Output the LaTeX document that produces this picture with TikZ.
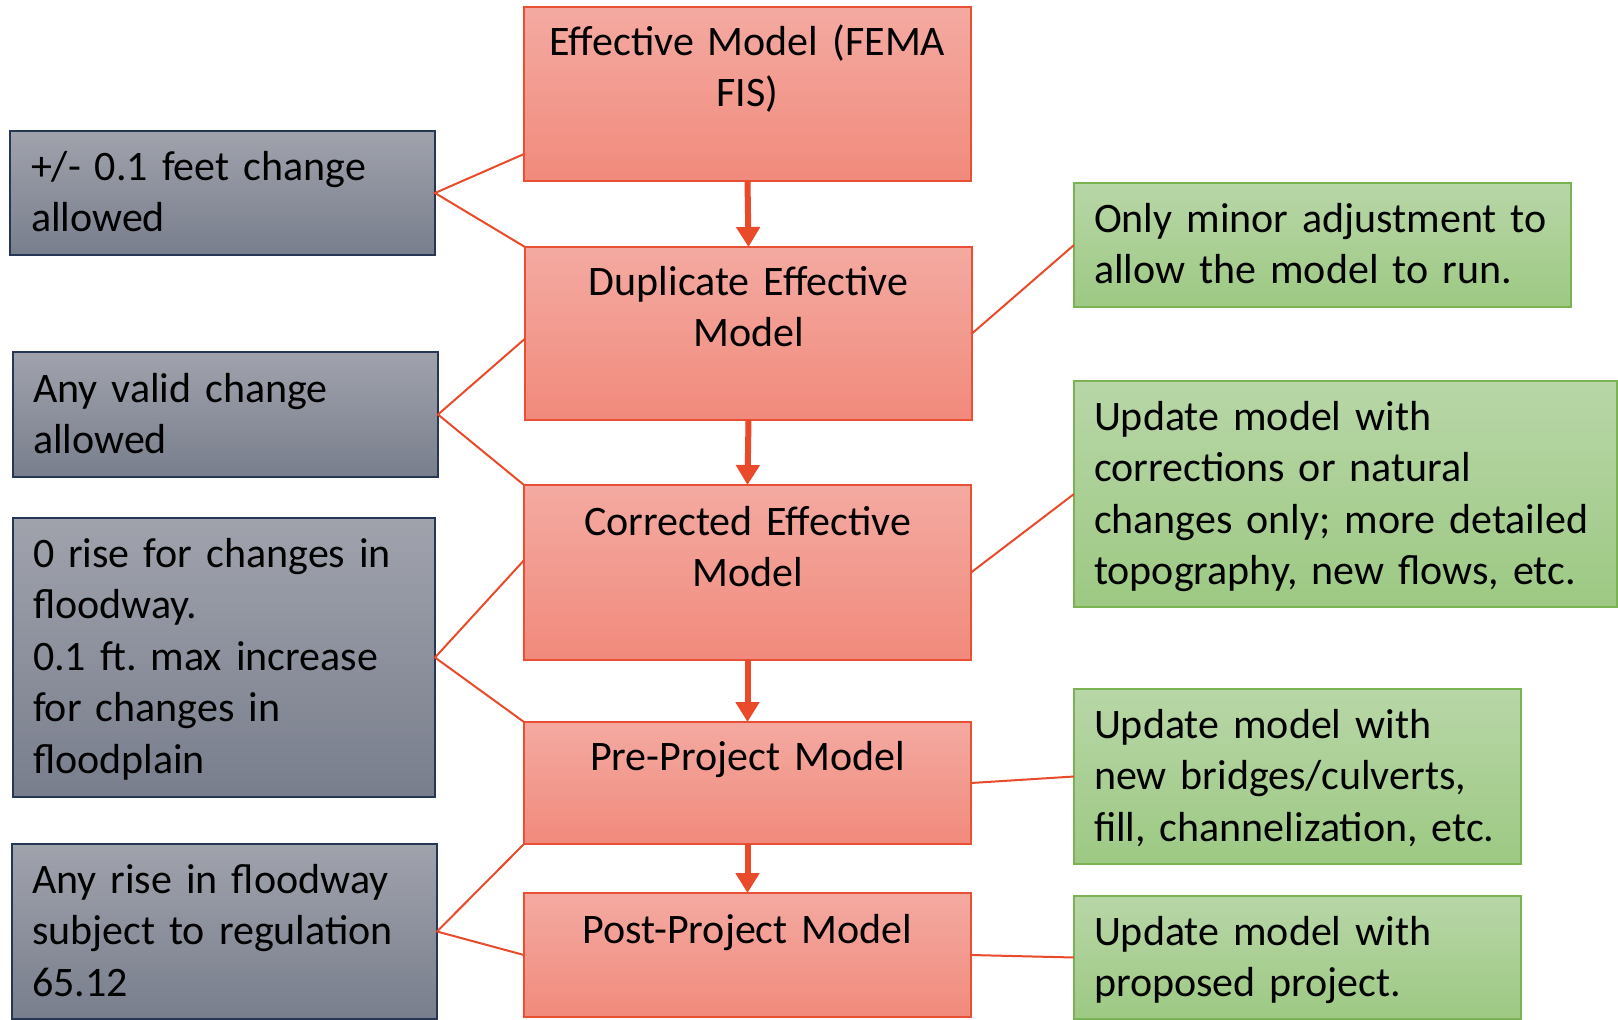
\documentclass[tikz,border=0pt]{standalone}
\usepackage{fontspec}
\setmainfont[WordSpace=0.85]{Carlito}
\frenchspacing
\usetikzlibrary{arrows.meta,calc}
\definecolor{redtop}{RGB}{244,170,161}
\definecolor{redbot}{RGB}{241,138,124}
\definecolor{redline}{RGB}{233,79,52}
\definecolor{greytop}{RGB}{160,163,172}
\definecolor{greybot}{RGB}{121,126,141}
\definecolor{greyline}{RGB}{38,55,85}
\definecolor{greentop}{RGB}{184,214,167}
\definecolor{greenbot}{RGB}{157,201,131}
\definecolor{greenline}{RGB}{122,180,82}
\definecolor{conn}{RGB}{232,74,42}
\tikzset{
  box/.style={rectangle, inner sep=0pt, outer sep=0pt},
  redbox/.style={box, draw=redline, line width=1.5pt, top color=redtop, bottom color=redbot},
  greybox/.style={box, draw=greyline, line width=1.8pt, top color=greytop, bottom color=greybot},
  greenbox/.style={box, draw=greenline, line width=1.5pt, top color=greentop, bottom color=greenbot},
  btext/.style={inner sep=0pt, outer sep=0pt, font=\fontsize{42}{51.5}\selectfont\frenchspacing, text=black},
  ctext/.style={btext, anchor=base, text width=440pt, align=center},
  ltext/.style={btext, anchor=base west, text width=520pt, align=left},
  flow/.style={conn, line width=6pt, -{Triangle[width=23pt,length=20pt]}},
  link/.style={conn, line width=2pt},
}
\begin{document}
\begin{tikzpicture}[x=1pt,y=-1pt]
\useasboundingbox (0,0) rectangle (1618,1020);
% red main boxes
\node[redbox, minimum width=447pt, minimum height=174pt] (b1) at (747.5,94) {};
\node[redbox, minimum width=447pt, minimum height=173pt] (b2) at (748.5,333.5) {};
\node[redbox, minimum width=447pt, minimum height=175pt] (b3) at (747.5,572.5) {};
\node[redbox, minimum width=447pt, minimum height=122pt] (b4) at (747.5,783) {};
\node[redbox, minimum width=447pt, minimum height=124pt] (b5) at (747.5,955) {};
\node[ctext] (t1) at (747.5,55) {Effective Model (FEMA\\FIS)};
\node[ctext] (t2) at (748.5,295) {Duplicate Effective\\Model};
\node[ctext] (t3) at (747.5,535) {Corrected Effective\\Model};
\node[ctext] (t4) at (747.5,770) {Pre-Project Model};
\node[ctext] (t5) at (747.5,943) {Post-Project Model};
% grey boxes
\node[greybox, minimum width=425pt, minimum height=124pt] (g1) at (222.5,193) {};
\node[greybox, minimum width=425pt, minimum height=125pt] (g2) at (225.5,414.5) {};
\node[greybox, minimum width=422pt, minimum height=279pt] (g3) at (224,657.5) {};
\node[greybox, minimum width=425pt, minimum height=175pt] (g4) at (224.5,931.5) {};
\node[ltext] (tg1) at (31,180) {+/- 0.1 feet change\\allowed};
\node[ltext] (tg2) at (33,402) {Any valid change\\allowed};
\node[ltext] (tg3) at (33,567) {0 rise for changes in\\floodway.\\0.1 ft. max increase\\for changes in\\floodplain};
\node[ltext] (tg4) at (32,893) {Any rise in floodway\\subject to regulation\\65.12};
% green boxes
\node[greenbox, minimum width=497pt, minimum height=124pt] (r1) at (1322.5,245) {};
\node[greenbox, minimum width=543pt, minimum height=226pt] (r2) at (1345.5,494) {};
\node[greenbox, minimum width=447pt, minimum height=175pt] (r3) at (1297.5,776.5) {};
\node[greenbox, minimum width=447pt, minimum height=123pt] (r4) at (1297.5,957.5) {};
\node[ltext] (tr1) at (1094,232) {Only minor adjustment to\\allow the model to run.};
\node[ltext] (tr2) at (1094,430) {Update model with\\corrections or natural\\changes only; more detailed\\topography, new flows, etc.};
\node[ltext] (tr3) at (1094,738) {Update model with\\new bridges/culverts,\\fill, channelization, etc.};
\node[ltext] (tr4) at (1094,945) {Update model with\\proposed project.};
% flow arrows
\draw[flow] (b1.south) -- (b2.north);
\draw[flow] (b2.south) -- (b3.north);
\draw[flow] (b3.south) -- (b4.north);
\draw[flow] (b4.south) -- (b5.north);
% left connectors
\draw[link] ($(b1.north west)!0.845!(b1.south west)$) -- (g1.east) -- (b2.north west);
\draw[link] ($(b2.north west)!0.53!(b2.south west)$) -- (g2.east) -- (b3.north west);
\draw[link] ($(b3.north west)!0.43!(b3.south west)$) -- (g3.east) -- (b4.north west);
\draw[link] (b4.south west) -- (g4.east) -- (b5.west);
% right connectors
\draw[link] (b2.east) -- (r1.west);
\draw[link] (b3.east) -- (r2.west);
\draw[link] (b4.east) -- (r3.west);
\draw[link] (b5.east) -- (r4.west);
\end{tikzpicture}
\end{document}
